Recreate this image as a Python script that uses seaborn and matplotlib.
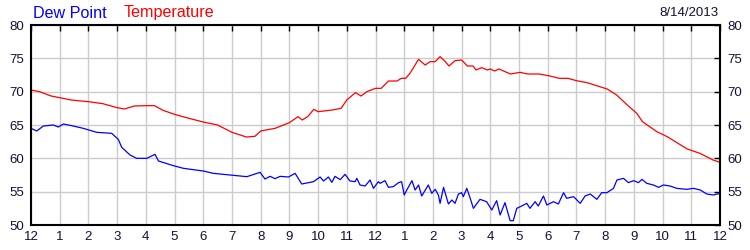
import matplotlib
matplotlib.use("Agg")
import matplotlib.pyplot as plt
import seaborn as sns
import pandas as pd

temp_hours = [0, 0.3, 0.7, 1.0, 1.4, 2.0, 2.5, 3.0, 3.25, 3.6, 4.0, 4.3, 4.6, 5.0, 5.5, 6.0,
              6.5, 7.0, 7.5, 7.8, 8.0, 8.5, 9.0, 9.3, 9.45, 9.65, 9.85, 10.0, 10.5, 10.8,
              11.0, 11.3, 11.5, 11.7, 12.0, 12.2, 12.45, 12.75, 12.9, 13.05, 13.2, 13.5,
              13.73, 13.9, 14.08, 14.25, 14.4, 14.56, 14.77, 15.0, 15.2, 15.4, 15.5, 15.7,
              15.9, 16.0, 16.15, 16.3, 16.7, 17.04, 17.3, 17.7, 18.08, 18.4, 18.7, 19.0,
              19.37, 19.7, 20.07, 20.4, 20.77, 21.1, 21.3, 21.8, 22.16, 22.5, 22.86, 23.3,
              23.76, 24.0]
temp_values = [70.25, 70.0, 69.35, 69.1, 68.75, 68.5, 68.2, 67.6, 67.4, 67.85, 67.9, 67.9,
               67.2, 66.6, 66.0, 65.45, 65.0, 63.9, 63.2, 63.3, 64.1, 64.5, 65.35, 66.25,
               65.75, 66.3, 67.35, 67.0, 67.25, 67.5, 68.75, 69.85, 69.35, 70.0, 70.5, 70.5,
               71.6, 71.6, 72.0, 72.0, 72.75, 74.85, 74.0, 74.5, 74.5, 75.25, 74.65, 73.85,
               74.65, 74.75, 73.85, 73.85, 73.25, 73.6, 73.25, 73.4, 73.1, 73.4, 72.65, 72.9,
               72.65, 72.65, 72.35, 72.0, 72.0, 71.65, 71.35, 70.9, 70.4, 69.5, 68.0, 66.75,
               65.5, 64.0, 63.25, 62.35, 61.4, 60.75, 59.75, 59.4]

dew_hours = [0, 0.2, 0.43, 0.78, 0.95, 1.13, 1.47, 1.82, 2.29, 2.81, 3.04, 3.16, 3.45, 3.68,
             4.03, 4.32, 4.44, 4.96, 5.31, 6.0, 6.35, 6.93, 7.52, 7.98, 8.15, 8.33, 8.5,
             8.68, 8.97, 9.2, 9.43, 9.84, 10.07, 10.19, 10.36, 10.48, 10.59, 10.77, 10.94,
             11.11, 11.29, 11.35, 11.46, 11.64, 11.81, 11.93, 12.1,
             12.16, 12.33, 12.45, 12.62, 12.8, 12.91, 13.0, 13.09, 13.27, 13.38, 13.5, 13.61,
             13.84, 13.96, 14.08, 14.19, 14.25, 14.37, 14.54, 14.66, 14.77, 14.89, 15.0,
             15.06, 15.18, 15.3, 15.41, 15.64, 15.87, 16.05, 16.22, 16.34, 16.51, 16.69,
             16.8, 16.92, 17.09, 17.27, 17.38, 17.56, 17.67, 17.85, 17.97, 18.2, 18.37,
             18.55, 18.66, 18.9, 19.13, 19.3, 19.48, 19.71, 19.88, 20.06, 20.29, 20.41,
             20.64, 20.81, 20.99, 21.16, 21.28, 21.45, 21.68, 21.86, 22.03, 22.26, 22.49,
             22.84, 23.08, 23.31, 23.54, 23.77, 24.0]
dew_values = [64.5, 64.1, 64.85, 65.0, 64.7, 65.15, 64.85, 64.5, 63.9, 63.75, 62.85, 61.65,
              60.5, 60.0, 60.0, 60.6, 59.6, 58.9, 58.5, 58.1, 57.75, 57.5, 57.25, 57.9, 56.9,
              57.3, 56.95, 57.3, 57.2, 57.75, 56.15, 56.5, 57.2, 56.6, 57.2, 56.4, 57.3,
              56.8, 57.6, 56.6, 56.5, 57.0, 56.0, 55.85, 56.75, 55.5, 56.5,
              56.25, 56.65, 55.65, 55.75, 56.35, 56.5, 54.5, 55.25, 56.65, 55.25, 56.0, 54.35,
              56.0, 54.75, 55.35, 54.5, 53.25, 55.65, 53.15, 53.75, 53.25, 54.65, 54.85,
              54.25, 55.5, 54.0, 52.5, 53.85, 53.5, 52.25, 53.65, 51.5, 53.35, 50.65,
              50.65, 52.5, 52.85, 53.25, 52.5, 53.5, 52.85, 54.35, 53.0, 53.5, 53.15,
              54.85, 54.0, 54.25, 53.25, 54.35, 54.65, 53.85, 54.85, 54.85, 55.5, 56.75,
              57.0, 56.35, 56.65, 56.35, 56.85, 56.25, 56.0, 55.65, 56.0, 55.85, 55.5,
              55.35, 55.5, 55.25, 54.65, 54.5, 54.75]

hour_labels = ["12"] + [str(i) for i in range(1, 12)] + ["12"] + [str(i) for i in range(1, 12)] + ["12"]
y_ticks = [50, 55, 60, 65, 70, 75, 80]
date_text = "8/14/2013"

sns.set_style("white")
plt.rcParams["font.family"] = ["Liberation Sans", "DejaVu Sans"]

fig = plt.figure(figsize=(7.5, 2.5), dpi=100)
ax = fig.add_axes([31 / 750, 0.1, 689 / 750, 0.8])

temp_df = pd.DataFrame({"hour": temp_hours, "value": temp_values})
dew_df = pd.DataFrame({"hour": dew_hours, "value": dew_values})

sns.lineplot(data=temp_df, x="hour", y="value", ax=ax, color="#ff0000", linewidth=0.9)
sns.lineplot(data=dew_df, x="hour", y="value", ax=ax, color="#0000ff", linewidth=0.9)

ax.set_xlim(0, 24)
ax.set_ylim(50, 80)
ax.set_xticks(range(25))
ax.set_xticklabels(hour_labels)
ax.set_yticks(y_ticks)
ax.set_xlabel("")
ax.set_ylabel("")
ax.grid(True, color="#cccccc", linewidth=1.0)
ax.set_axisbelow(True)
for s in ax.spines.values():
    s.set_color("black")
    s.set_linewidth(1.5)
    s.set_visible(True)
ax.tick_params(axis="both", direction="in", length=4, width=1, color="black",
               labelsize=9.5, labelcolor="#111133", top=True, right=True,
               labelright=True, pad=5)
ax.tick_params(axis="x", pad=4)

fig.text(33 / 750, 1 - 13 / 250, "Dew Point", color="#0000ff", fontsize=11.6, va="center", ha="left")
fig.text(124 / 750, 1 - 13 / 250, "Temperature", color="#ff0000", fontsize=11.6, va="center", ha="left")
fig.text(718 / 750, 1 - 13 / 250, date_text, color="#111133", fontsize=9.5, va="center", ha="right")

fig.savefig("out.png", dpi=100)
